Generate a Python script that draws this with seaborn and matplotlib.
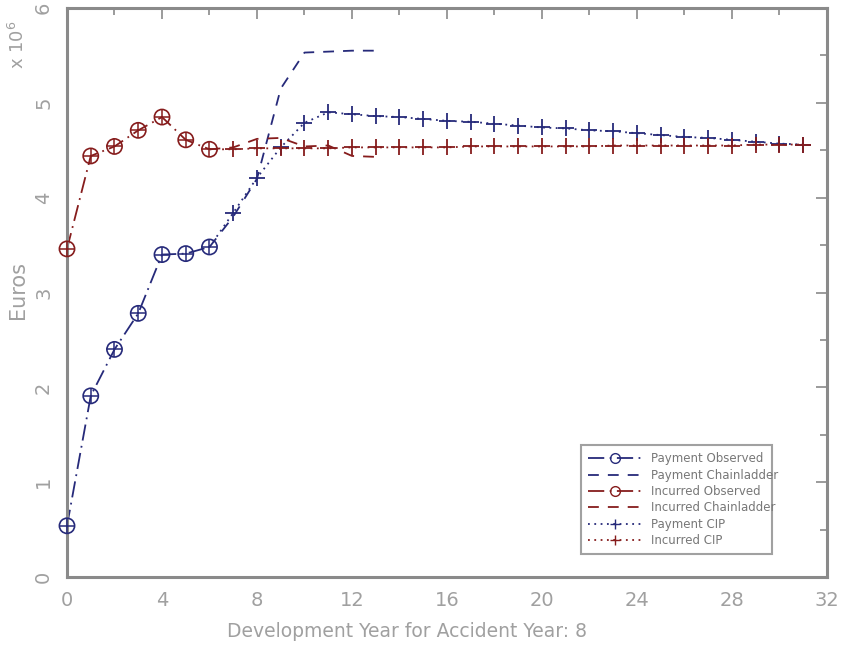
import matplotlib
matplotlib.use("Agg")
import matplotlib.pyplot as plt
import seaborn as sns
import numpy as np
from matplotlib.lines import Line2D
from matplotlib.ticker import MultipleLocator

# ---- data (values in millions of Euros) ----
dev_obs = [0, 1, 2, 3, 4, 5, 6]
pay_obs = [0.54, 1.91, 2.40, 2.78, 3.40, 3.41, 3.48]
inc_obs = [3.46, 4.44, 4.54, 4.71, 4.85, 4.61, 4.51]

dev_cl = [6, 7, 8, 9, 10, 11, 12, 13]
pay_cl = [3.48, 3.80, 4.20, 5.15, 5.53, 5.54, 5.55, 5.55]
inc_cl = [4.51, 4.53, 4.62, 4.63, 4.54, 4.55, 4.44, 4.43]

dev_cip = list(range(6, 32))
pay_cip = [3.48, 3.84, 4.21, 4.53, 4.79, 4.90, 4.88, 4.86, 4.85, 4.83, 4.81, 4.80, 4.78,
           4.76, 4.74, 4.73, 4.71, 4.70, 4.68, 4.66, 4.64, 4.63, 4.61, 4.59, 4.57, 4.56]
inc_cip = [4.51, 4.51, 4.52, 4.52, 4.52, 4.52, 4.53, 4.53, 4.53, 4.53, 4.53, 4.54, 4.54,
           4.54, 4.54, 4.54, 4.54, 4.55, 4.55, 4.55, 4.55, 4.55, 4.55, 4.56, 4.56, 4.56]

labels = ["Payment Observed", "Payment Chainladder", "Incurred Observed",
          "Incurred Chainladder", "Payment CIP", "Incurred CIP"]

BLUE = "#262a7a"
RED = "#861c1c"
GREY = "#8a8a8a"
TXT = "#a0a0a0"

sns.set_style("white")
plt.rcParams['font.family'] = ['DejaVu Sans']

fig = plt.figure(figsize=(8.45, 6.47), dpi=100)
ax = fig.add_axes([67/845, 70/647, 760/845, 569/647])

DASHDOT = (0, (9, 3, 1, 3))
DASH = (0, (6, 5))
DOT = (0, (1, 2.5))

def line(x, y, color, ls):
    sns.lineplot(x=x, y=y, color=color, ax=ax, linewidth=1.3, estimator=None, sort=False)
    ax.lines[-1].set_linestyle(ls)

# CIP (dotted)
line(dev_cip, pay_cip, BLUE, DOT)
line(dev_cip, inc_cip, RED, DOT)
# chainladder (dashed)
line(dev_cl, pay_cl, BLUE, DASH)
line(dev_cl, inc_cl, RED, DASH)
# observed (dash-dot)
line(dev_obs, pay_obs, BLUE, DASHDOT)
line(dev_obs, inc_obs, RED, DASHDOT)

# markers
for x, y, c in [(dev_obs, pay_obs, BLUE), (dev_obs, inc_obs, RED)]:
    sns.scatterplot(x=x, y=y, ax=ax, marker='o', s=120, facecolors='none',
                    edgecolor=c, linewidth=1.2, zorder=5, clip_on=False)
    sns.scatterplot(x=x, y=y, ax=ax, marker='+', s=120, color=c,
                    linewidth=1.1, zorder=5, clip_on=False)
for x, y, c in [(dev_cip[1:], pay_cip[1:], BLUE), (dev_cip[1:], inc_cip[1:], RED)]:
    sns.scatterplot(x=x, y=y, ax=ax, marker='+', s=120, color=c,
                    linewidth=1.3, zorder=5)

ax.set_xlim(0, 32)
ax.set_ylim(0, 6)
ax.xaxis.set_major_locator(MultipleLocator(4))
ax.xaxis.set_minor_locator(MultipleLocator(2))
ax.yaxis.set_major_locator(MultipleLocator(1))
ax.yaxis.set_minor_locator(MultipleLocator(0.5))

for s in ax.spines.values():
    s.set_color(GREY)
    s.set_linewidth(2.2)

ax.tick_params(which='both', direction='in', top=True, right=True, color=GREY,
               labelcolor=TXT, labelsize=14)
ax.tick_params(which='major', length=8, width=1.2, pad=10)
ax.tick_params(which='minor', length=5, width=1.2)
for t in ax.get_yticklabels():
    t.set_rotation(90)
    t.set_va('center')

ax.set_xlabel("Development Year for Accident Year: 8", color=TXT, fontsize=13.5)
ax.xaxis.set_label_coords((407-67)/760, -(622-577)/569)
ax.set_ylabel("Euros", color=TXT, fontsize=15)
ax.yaxis.set_label_coords(-(67-28)/760, (577-290)/569)
fig.text(18/845, 1 - 45/647, r"x 10$^6$", rotation=90, color=TXT, fontsize=13,
         ha='center', va='center')

handles = [
    Line2D([], [], color=BLUE, linestyle=DASHDOT, marker='o', mfc='none', markersize=7, lw=1.3),
    Line2D([], [], color=BLUE, linestyle=DASH, lw=1.3),
    Line2D([], [], color=RED, linestyle=DASHDOT, marker='o', mfc='none', markersize=7, lw=1.3),
    Line2D([], [], color=RED, linestyle=DASH, lw=1.3),
    Line2D([], [], color=BLUE, linestyle=DOT, marker='+', markersize=7, lw=1.3),
    Line2D([], [], color=RED, linestyle=DOT, marker='+', markersize=7, lw=1.3),
]
leg = ax.legend(handles, labels, loc='lower left',
                bbox_to_anchor=((575-67)/760, (577-560)/569, (778-575)/760, (560-455)/569),
                mode='expand', fontsize=8.5, frameon=True, fancybox=False, numpoints=1,
                handlelength=4.5, labelspacing=0.28, borderpad=0.6, markerfirst=True)
leg.get_frame().set_edgecolor(GREY)
leg.get_frame().set_linewidth(1.5)
for t in leg.get_texts():
    t.set_color("#777777")

fig.savefig("out.png", dpi=100)
